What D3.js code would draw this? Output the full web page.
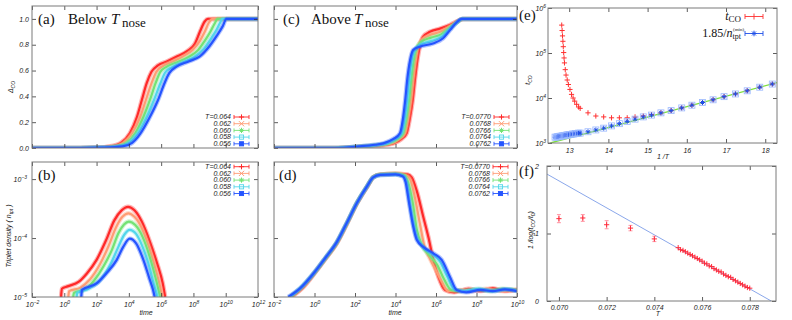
<!DOCTYPE html>
<html>
<head>
<meta charset="utf-8">
<script src="https://cdn.jsdelivr.net/npm/d3@7"></script>
<style>
body { margin: 0; background: #fff; }
svg { display: block; }
.tick text, .lbl { font-family: "Liberation Sans", Arial, sans-serif; font-style: italic; font-size: 7px; fill: #222; }
.ptitle { font-family: "Liberation Serif", "Times New Roman", serif; font-size: 15px; fill: #111; }
.leg { font-family: "Liberation Serif", "Times New Roman", serif; font-size: 12px; fill: #111; }
</style>
</head>
<body>
<div id="chart"></div>
<script>
var svgWidth = 792;
var svgHeight = 320;

// ---------- data ----------
var tempsBelow = ["T=0.064", "0.062", "0.060", "0.058", "0.056"];
var tempsAbove = ["T=0.0770", "0.0768", "0.0766", "0.0764", "0.0762"];
var seriesColors = ["#ff2828", "#ff9c74", "#74e274", "#52d6ea", "#2454ff"];
var seriesMarks = ["plus", "cross", "star", "box", "fbox"];

// (a) Delta_CO vs time, [log10(time), Delta]
var deltaBelow = [
  [[-2,0],[1,0],[2.0,0.003],[2.8,0.012],[3.5,0.04],[4.07,0.116],[4.5,0.24],[4.8,0.37],[5.1,0.5],[5.4,0.59],[5.8,0.64],[6.35,0.67],[7.0,0.71],[7.6,0.75],[8.1,0.81],[8.4,0.9],[8.7,0.98],[8.9,1.0],[12,1.0]],
  [[-2,0],[1,0],[2.1,0.003],[3.0,0.012],[3.65,0.04],[4.2,0.115],[4.7,0.24],[5.05,0.37],[5.4,0.5],[5.7,0.59],[6.1,0.635],[6.7,0.67],[7.35,0.71],[7.95,0.76],[8.4,0.83],[8.7,0.9],[8.95,0.97],[9.2,1.0],[12,1.0]],
  [[-2,0],[1,0],[2.2,0.003],[3.2,0.012],[3.85,0.04],[4.4,0.115],[4.9,0.24],[5.3,0.37],[5.65,0.5],[5.95,0.59],[6.35,0.63],[7.0,0.665],[7.7,0.705],[8.3,0.76],[8.7,0.83],[9.05,0.9],[9.3,0.96],[9.5,1.0],[12,1.0]],
  [[-2,0],[1,0],[2.3,0.003],[3.4,0.012],[4.0,0.04],[4.55,0.115],[5.1,0.24],[5.55,0.37],[5.95,0.5],[6.25,0.585],[6.65,0.625],[7.35,0.665],[8.05,0.705],[8.65,0.77],[9.1,0.85],[9.45,0.92],[9.65,0.97],[9.8,1.0],[12,1.0]],
  [[-2,0],[1,0],[2.4,0.003],[3.6,0.012],[4.2,0.04],[4.7,0.11],[5.3,0.24],[5.8,0.37],[6.2,0.5],[6.5,0.58],[6.95,0.63],[7.7,0.67],[8.4,0.71],[9.0,0.79],[9.45,0.87],[9.8,0.94],[10.05,1.0],[12,1.0]]
];

// (b) triplet density, [log10(time), log10(n_tpt)]
var tripletBelow = [
  [[-0.2,-5.0],[-0.15,-4.86],[0.2,-4.82],[0.9,-4.74],[1.4,-4.6],[2.0,-4.37],[2.6,-4.03],[3.1,-3.7],[3.55,-3.53],[3.95,-3.47],[4.35,-3.53],[4.8,-3.72],[5.3,-4.06],[5.75,-4.43],[6.1,-4.77],[6.25,-5.0]],
  [[0.25,-5.0],[0.3,-4.9],[1.0,-4.84],[1.6,-4.7],[2.2,-4.45],[2.75,-4.13],[3.2,-3.82],[3.6,-3.64],[3.97,-3.58],[4.35,-3.64],[4.8,-3.83],[5.25,-4.15],[5.65,-4.52],[5.95,-4.84],[6.07,-5.0]],
  [[0.55,-5.0],[0.6,-4.93],[1.3,-4.87],[1.85,-4.72],[2.45,-4.47],[2.95,-4.2],[3.35,-3.92],[3.7,-3.77],[4.0,-3.72],[4.4,-3.78],[4.85,-3.98],[5.25,-4.28],[5.6,-4.62],[5.85,-4.9],[5.93,-5.0]],
  [[0.77,-5.0],[0.8,-4.93],[1.5,-4.86],[2.2,-4.72],[2.85,-4.45],[3.35,-4.15],[3.7,-3.95],[4.05,-3.86],[4.45,-3.93],[4.85,-4.15],[5.25,-4.47],[5.55,-4.78],[5.7,-4.92],[5.77,-5.0]],
  [[1.05,-5.0],[1.1,-4.88],[2.0,-4.77],[2.6,-4.6],[3.25,-4.37],[3.65,-4.15],[4.05,-4.01],[4.45,-4.09],[4.9,-4.37],[5.3,-4.71],[5.5,-4.88],[5.6,-5.0]]
];

// (c) Delta_CO above T_nose
var deltaAbove = [
  [[-2,0],[1,0],[2.25,0.01],[3.3,0.02],[3.9,0.036],[4.3,0.07],[4.55,0.114],[4.72,0.24],[4.85,0.37],[4.96,0.53],[5.08,0.68],[5.18,0.77],[5.35,0.86],[5.7,0.9],[6.2,0.925],[6.7,0.955],[7.1,0.985],[7.35,1.0],[10,1.0]],
  [[-2,0],[1,0],[2.25,0.011],[3.2,0.022],[3.8,0.036],[4.2,0.07],[4.47,0.114],[4.64,0.24],[4.77,0.37],[4.88,0.53],[5.0,0.68],[5.1,0.77],[5.3,0.84],[5.7,0.875],[6.2,0.9],[6.7,0.945],[7.05,0.98],[7.32,1.0],[10,1.0]],
  [[-2,0],[1,0],[2.25,0.011],[3.15,0.023],[3.65,0.036],[4.1,0.07],[4.38,0.114],[4.55,0.24],[4.67,0.37],[4.78,0.53],[4.9,0.68],[5.02,0.765],[5.25,0.82],[5.75,0.855],[6.25,0.88],[6.7,0.935],[7.05,0.975],[7.3,1.0],[10,1.0]],
  [[-2,0],[1,0],[2.2,0.012],[3.1,0.024],[3.55,0.036],[4.0,0.07],[4.3,0.114],[4.47,0.24],[4.58,0.37],[4.68,0.53],[4.8,0.68],[4.95,0.76],[5.22,0.8],[5.8,0.83],[6.3,0.865],[6.7,0.925],[7.02,0.972],[7.28,1.0],[10,1.0]],
  [[-2,0],[1,0],[2.2,0.012],[3.0,0.025],[3.4,0.036],[3.9,0.07],[4.22,0.114],[4.38,0.24],[4.48,0.37],[4.58,0.53],[4.72,0.68],[4.88,0.76],[5.2,0.785],[5.85,0.81],[6.35,0.85],[6.7,0.915],[7.0,0.97],[7.27,1.0],[10,1.0]]
];

// (d) triplet density above T_nose
var tripletAbove = [
  [[-1.15,-5.0],[-0.6,-4.85],[0.0,-4.6],[0.55,-4.35],[1.1,-4.09],[1.6,-3.76],[2.1,-3.41],[2.6,-3.13],[2.9,-2.97],[3.25,-2.92],[4.0,-2.91],[4.6,-2.92],[4.8,-2.97],[5.05,-3.2],[5.37,-3.64],[5.62,-3.98],[5.87,-4.37],[6.12,-4.66],[6.44,-4.88],[6.9,-4.92],[7.6,-4.86],[8.2,-4.9],[8.8,-4.85],[9.4,-4.9],[10,-4.88]],
  [[-1.2,-5.0],[-0.6,-4.84],[0.0,-4.59],[0.55,-4.34],[1.1,-4.08],[1.6,-3.75],[2.1,-3.41],[2.6,-3.13],[2.9,-2.97],[3.25,-2.92],[4.0,-2.91],[4.5,-2.93],[4.72,-3.0],[4.95,-3.3],[5.2,-3.75],[5.4,-4.1],[5.7,-4.35],[6.0,-4.55],[6.3,-4.75],[6.6,-4.9],[7.2,-4.88],[7.8,-4.9],[8.5,-4.86],[9.2,-4.9],[10,-4.87]],
  [[-1.2,-5.0],[-0.65,-4.84],[0.0,-4.59],[0.55,-4.34],[1.1,-4.08],[1.6,-3.75],[2.1,-3.4],[2.6,-3.12],[2.9,-2.97],[3.25,-2.92],[4.0,-2.91],[4.45,-2.94],[4.62,-3.05],[4.85,-3.4],[5.05,-3.85],[5.3,-4.12],[5.7,-4.3],[6.05,-4.45],[6.4,-4.7],[6.75,-4.88],[7.3,-4.9],[8.0,-4.87],[8.7,-4.9],[9.3,-4.86],[10,-4.89]],
  [[-1.25,-5.0],[-0.7,-4.85],[0.0,-4.58],[0.55,-4.33],[1.1,-4.07],[1.6,-3.74],[2.1,-3.4],[2.6,-3.12],[2.9,-2.97],[3.25,-2.93],[4.0,-2.92],[4.4,-2.95],[4.56,-3.08],[4.75,-3.5],[4.98,-3.92],[5.3,-4.13],[5.8,-4.27],[6.2,-4.4],[6.55,-4.65],[6.9,-4.87],[7.4,-4.9],[8.1,-4.86],[8.8,-4.9],[9.5,-4.87],[10,-4.9]],
  [[-1.3,-5.0],[-0.7,-4.85],[0.0,-4.58],[0.55,-4.33],[1.1,-4.07],[1.6,-3.74],[2.1,-3.4],[2.6,-3.12],[2.9,-2.97],[3.25,-2.93],[4.0,-2.92],[4.35,-2.95],[4.5,-3.05],[4.65,-3.36],[4.88,-3.81],[5.05,-4.03],[5.37,-4.15],[5.87,-4.26],[6.28,-4.37],[6.69,-4.66],[7.02,-4.88],[7.5,-4.92],[8.2,-4.88],[8.8,-4.9],[9.4,-4.87],[10,-4.9]]
];

// (e) crossover time vs 1/T
var tcoInvT = [12.81,12.82,12.83,12.84,12.85,12.86,12.87,12.88,12.90,12.92,12.95,12.98,13.02,13.06,13.10,13.14,13.19,13.24,13.28,
  13.48,13.68,13.88,14.08,14.28,14.48,14.68,14.89,15.10,15.34,15.60,15.87,16.13,16.40,16.67,16.95,17.24,17.54,17.86,18.18];
var tcoLog = [5.62,5.50,5.38,5.26,5.14,5.01,4.89,4.78,4.63,4.51,4.40,4.30,4.19,4.08,4.00,3.93,3.86,3.80,3.77,
  3.67,3.60,3.58,3.56,3.56,3.56,3.58,3.60,3.63,3.67,3.72,3.78,3.84,3.90,3.96,4.03,4.09,4.16,4.24,4.31];
var ntptInvT = [12.64,12.67,12.70,12.73,12.76,12.79,12.82,12.85,12.88,12.91,12.94,12.97,13.00,13.04,13.08,13.12,13.16,13.20,13.24,13.28,
  13.48,13.68,13.88,14.08,14.28,14.48,14.68,14.89,15.10,15.34,15.60,15.87,16.13,16.40,16.67,16.95,17.24,17.54,17.86,18.18];
var ntptLog = [3.13,3.13,3.14,3.14,3.15,3.15,3.16,3.16,3.17,3.17,3.18,3.18,3.19,3.19,3.20,3.20,3.21,3.21,3.22,3.22,
  3.25,3.29,3.33,3.38,3.43,3.48,3.53,3.58,3.62,3.67,3.72,3.78,3.84,3.90,3.96,4.03,4.09,4.16,4.24,4.31];
var fitE = [[12.52, 3.0], [18.3, 4.34]];

// (f) 1/log(t_CO/t_0) vs T
var fT = [0.0700,0.0710,0.0720,0.0730,0.0740,
  0.0750,0.0751,0.0752,0.0753,0.0754,0.0755,0.0756,0.0757,0.0758,0.0759,0.0760,0.0761,0.0762,0.0763,0.0764,0.0765,
  0.0766,0.0767,0.0768,0.0769,0.0770,0.0771,0.0772,0.0773,0.0774,0.0775,0.0776,0.0777,0.0778,0.0779,0.0780];
var fVal = [1.22,1.23,1.13,1.08,0.92,
  0.79,0.76,0.75,0.73,0.71,0.69,0.67,0.65,0.63,0.61,0.59,0.56,0.55,0.52,0.51,0.48,
  0.46,0.44,0.43,0.40,0.38,0.36,0.35,0.32,0.30,0.28,0.26,0.24,0.22,0.20,0.19];
var fErr = [0.06,0.05,0.06,0.04,0.04];
var fitF = [[0.0695, 1.88], [0.0789, 0]];

// ticks
var timeTicksB = [1e-2,1e0,1e2,1e4,1e6,1e8,1e10,1e12];
var timeTicksD = [1e-2,1e0,1e2,1e4,1e6,1e8,1e10];
var deltaTicks = [0,0.2,0.4,0.6,0.8,1.0];
var densTicks = [1e-5,1e-4,1e-3];
var invTTicks = [13,14,15,16,17,18];
var tcoTicks = [1e3,1e4,1e5,1e6];
var fXTicks = [0.070,0.072,0.074,0.076,0.078];
var fYTicks = [0,1,2];

// ---------- layout ----------
var boxA = {x0: 32, x1: 258, y0: 6, y1: 148};
var boxB = {x0: 32, x1: 258, y0: 162, y1: 297};
var boxC = {x0: 274, x1: 517, y0: 6, y1: 148};
var boxD = {x0: 274, x1: 517, y0: 162, y1: 297};
var boxE = {x0: 548, x1: 777, y0: 8, y1: 143};
var boxF = {x0: 547, x1: 776, y0: 166, y1: 301};

var svg = d3.select("#chart").append("svg")
  .attr("width", svgWidth)
  .attr("height", svgHeight);
var defs = svg.append("defs");

function clip(id, b) {
  defs.append("clipPath").attr("id", id).append("rect")
    .attr("x", b.x0).attr("y", b.y0)
    .attr("width", b.x1 - b.x0).attr("height", b.y1 - b.y0);
  return svg.append("g").attr("clip-path", "url(#" + id + ")");
}

function powLabel(d) {
  var e = Math.round(Math.log10(d));
  var t = d3.select(this).text(null);
  t.append("tspan").text("10");
  t.append("tspan").attr("dy", -3).attr("font-size", "5px").text(e < 0 ? "\u2212" + (-e) : e);
}

function axes(b, x, y, o) {
  var g = svg.append("g");
  var bot = g.append("g").attr("transform", "translate(0," + b.y1 + ")")
    .call(d3.axisBottom(x).tickValues(o.xt).tickSizeInner(-4).tickSizeOuter(0)
      .tickPadding(o.xpad || 5).tickFormat(o.xf && o.xf !== "pow" ? o.xf : ""));
  if (o.xf === "pow") bot.selectAll(".tick text").each(powLabel);
  if (!o.xf) bot.selectAll(".tick text").remove();
  g.append("g").attr("transform", "translate(0," + b.y0 + ")")
    .call(d3.axisTop(x).tickValues(o.xt).tickSizeInner(-4).tickSizeOuter(0).tickFormat(""));
  var lef = g.append("g").attr("transform", "translate(" + b.x0 + ",0)")
    .call(d3.axisLeft(y).tickValues(o.yt).tickSizeInner(-4).tickSizeOuter(0)
      .tickPadding(o.ypad || 3).tickFormat(o.yf && o.yf !== "pow" ? o.yf : ""));
  if (o.yf === "pow") lef.selectAll(".tick text").each(powLabel);
  if (!o.yf) lef.selectAll(".tick text").remove();
  g.append("g").attr("transform", "translate(" + b.x1 + ",0)")
    .call(d3.axisRight(y).tickValues(o.yt).tickSizeInner(-4).tickSizeOuter(0).tickFormat(""));
  g.selectAll(".domain").remove();
  g.selectAll(".tick line").attr("stroke", "#333").attr("stroke-width", 0.8);
  svg.append("rect").attr("x", b.x0).attr("y", b.y0)
    .attr("width", b.x1 - b.x0).attr("height", b.y1 - b.y0)
    .attr("fill", "none").attr("stroke", "#7a7a7a").attr("stroke-width", 1);
}

function marker(g, type, cx, cy, s, color) {
  var p;
  if (type === "plus") p = "M" + (cx - s) + "," + cy + "H" + (cx + s) + "M" + cx + "," + (cy - s) + "V" + (cy + s);
  if (type === "cross") p = "M" + (cx - s) + "," + (cy - s) + "L" + (cx + s) + "," + (cy + s) + "M" + (cx - s) + "," + (cy + s) + "L" + (cx + s) + "," + (cy - s);
  if (type === "star") p = "M" + (cx - s) + "," + cy + "H" + (cx + s) + "M" + cx + "," + (cy - s) + "V" + (cy + s) +
    "M" + (cx - s * 0.7) + "," + (cy - s * 0.7) + "L" + (cx + s * 0.7) + "," + (cy + s * 0.7) + "M" + (cx - s * 0.7) + "," + (cy + s * 0.7) + "L" + (cx + s * 0.7) + "," + (cy - s * 0.7);
  if (type === "box" || type === "fbox") {
    g.append("rect").attr("x", cx - s * 0.8).attr("y", cy - s * 0.8).attr("width", s * 1.6).attr("height", s * 1.6)
      .attr("fill", type === "fbox" ? color : "none").attr("stroke", color).attr("stroke-width", 0.9);
    return;
  }
  g.append("path").attr("d", p).attr("stroke", color).attr("stroke-width", 1).attr("fill", "none");
}

function legend(labels, xr, y0, dy) {
  var g = svg.append("g");
  labels.forEach(function(t, i) {
    var y = y0 + i * dy;
    g.append("text").attr("class", "lbl").attr("x", xr).attr("y", y + 2.3)
      .attr("text-anchor", "end").text(t);
    var c = seriesColors[i];
    g.append("path").attr("d", "M" + (xr + 3) + "," + y + "H" + (xr + 18) + "M" + (xr + 3) + "," + (y - 2) + "V" + (y + 2) + "M" + (xr + 18) + "," + (y - 2) + "V" + (y + 2))
      .attr("stroke", c).attr("stroke-width", 0.9).attr("fill", "none");
    marker(g, seriesMarks[i], xr + 10.5, y, 2.6, c);
  });
}

function drawSeries(g, data, x, y, logY) {
  var line = d3.line()
    .x(function(d) { return x(Math.pow(10, d[0])); })
    .y(function(d) { return logY ? y(Math.pow(10, d[1])) : y(d[1]); })
    .curve(d3.curveMonotoneX);
  data.forEach(function(s, i) {
    g.append("path").attr("d", line(s)).attr("fill", "none")
      .attr("stroke", seriesColors[i]).attr("stroke-width", 4.5).attr("stroke-opacity", 0.35);
    g.append("path").attr("d", line(s)).attr("fill", "none")
      .attr("stroke", seriesColors[i]).attr("stroke-width", 2.2).attr("stroke-linejoin", "round");
  });
}

// ---------- (a) ----------
var xA = d3.scaleLog().domain([1e-2, 1e12]).range([boxA.x0, boxA.x1]);
var yA = d3.scaleLinear().domain([0, 1.1]).range([boxA.y1, boxA.y0]);
drawSeries(clip("cA", boxA), deltaBelow, xA, yA, false);
axes(boxA, xA, yA, {xt: timeTicksB, yt: deltaTicks, yf: d3.format(".1f")});
legend(tempsBelow, 231, 117, 6.7);

// ---------- (b) ----------
var yB = d3.scaleLog().domain([1e-5, Math.pow(10, -2.71)]).range([boxB.y1, boxB.y0]);
drawSeries(clip("cB", boxB), tripletBelow, xA, yB, true);
axes(boxB, xA, yB, {xt: timeTicksB, yt: densTicks, xf: "pow", yf: "pow", ypad: 5});
legend(tempsBelow, 231, 166.7, 6.7);

// ---------- (c) ----------
var xC = d3.scaleLog().domain([1e-2, 1e10]).range([boxC.x0, boxC.x1]);
drawSeries(clip("cC", boxC), deltaAbove, xC, yA, false);
axes(boxC, xC, yA, {xt: timeTicksD, yt: deltaTicks});
legend(tempsAbove, 491, 117, 6.7);

// ---------- (d) ----------
drawSeries(clip("cD", boxD), tripletAbove, xC, yB, true);
axes(boxD, xC, yB, {xt: timeTicksD, yt: densTicks, xf: "pow"});
legend(tempsAbove, 490, 166.7, 6.7);

// ---------- (e) ----------
var xE = d3.scaleLinear().domain([12.46, 18.3]).range([boxE.x0, boxE.x1]);
var yE = d3.scaleLog().domain([1e3, 1e6]).range([boxE.y1, boxE.y0]);
var gE = clip("cE", boxE);
gE.append("line")
  .attr("x1", xE(fitE[0][0])).attr("y1", yE(Math.pow(10, fitE[0][1])))
  .attr("x2", xE(fitE[1][0])).attr("y2", yE(Math.pow(10, fitE[1][1])))
  .attr("stroke", "#7ee03c").attr("stroke-width", 1.3);
tcoInvT.forEach(function(v, i) {
  marker(gE, "plus", xE(v), yE(Math.pow(10, tcoLog[i])), 2.6, "#ff3030");
});
ntptInvT.forEach(function(v, i) {
  var cx = xE(v), cy = yE(Math.pow(10, ntptLog[i]));
  gE.append("rect").attr("x", cx - 3).attr("y", cy - 3).attr("width", 6).attr("height", 6)
    .attr("fill", "none").attr("stroke", "#9ab8ff").attr("stroke-width", 0.8);
  marker(gE, "star", cx, cy, 2.4, "#2050e8");
});
axes(boxE, xE, yE, {xt: invTTicks, yt: tcoTicks, xf: d3.format("d"), yf: "pow", ypad: 2});

// legend (e)
var lgE = svg.append("g");
var tco = lgE.append("text").attr("class", "leg").attr("x", 741).attr("y", 20).attr("text-anchor", "end");
tco.append("tspan").attr("font-style", "italic").text("t");
tco.append("tspan").attr("font-size", "9px").attr("dy", 2).text("CO");
lgE.append("path").attr("d", "M745,16.5H763M745,14V19M763,14V19M754,13.5V19.5").attr("stroke", "#ff3030").attr("stroke-width", 0.9);
var nt = lgE.append("text").attr("class", "leg").attr("x", 741).attr("y", 37).attr("text-anchor", "end");
nt.append("tspan").text("1.85/");
nt.append("tspan").attr("font-style", "italic").text("n");
var sub = nt.append("tspan").attr("font-size", "8px").attr("dy", 2).text("tpt");
var subW = sub.node().getComputedTextLength();
lgE.append("text").attr("class", "leg").attr("x", 741 - subW + 0.5).attr("y", 30.5)
  .style("font-size", "5px").text("(min)");
lgE.append("path").attr("d", "M745,33.5H763M745,31V36M763,31V36").attr("stroke", "#2050e8").attr("stroke-width", 0.9);
marker(lgE, "star", 754, 33.5, 2.8, "#2050e8");

// ---------- (f) ----------
var xF = d3.scaleLinear().domain([0.0695, 0.0791]).range([boxF.x0, boxF.x1]);
var yF = d3.scaleLinear().domain([0, 2]).range([boxF.y1, boxF.y0]);
var gF = clip("cF", boxF);
gF.append("line")
  .attr("x1", xF(fitF[0][0])).attr("y1", yF(fitF[0][1]))
  .attr("x2", xF(fitF[1][0])).attr("y2", yF(fitF[1][1]))
  .attr("stroke", "#7d9de8").attr("stroke-width", 0.9);
fT.forEach(function(t, i) {
  var cx = xF(t), cy = yF(fVal[i]);
  if (i < fErr.length) {
    var e0 = yF(fVal[i] - fErr[i]), e1 = yF(fVal[i] + fErr[i]);
    gF.append("path").attr("d", "M" + cx + "," + e0 + "V" + e1 + "M" + (cx - 2) + "," + e0 + "H" + (cx + 2) + "M" + (cx - 2) + "," + e1 + "H" + (cx + 2))
      .attr("stroke", "#ff8a9a").attr("stroke-width", 0.9).attr("fill", "none");
  }
  marker(gF, "plus", cx, cy, 2.6, "#ff2a3a");
});
axes(boxF, xF, yF, {xt: fXTicks, yt: fYTicks, xf: d3.format(".3f"), yf: d3.format("d"), xpad: 4, ypad: 8});

// ---------- titles and axis names ----------
function title(x, y, parts) {
  parts.forEach(function(p) {
    var t = svg.append("text").attr("class", "ptitle").attr("x", x + p[0]).attr("y", y + (p[3] || 0)).text(p[1]);
    if (p[2]) t.style("font-style", "italic");
    if (p[4]) t.style("font-size", p[4]);
  });
}
title(38, 24, [[0, "(a)"], [30, "Below"], [73, "T", true], [84, "nose", false, 3, "13px"]]);
title(283, 24, [[0, "(c)"], [28, "Above"], [71, "T", true], [82, "nose", false, 3, "13px"]]);
title(38, 180, [[0, "(b)"]]);
title(279, 180, [[0, "(d)"]]);
title(519, 20, [[0, "(e)"]]);
title(519, 176, [[0, "(f)"]]);

function axisName(x, y, rot, parts) {
  var t = svg.append("text").attr("class", "lbl").attr("text-anchor", "middle")
    .attr("transform", "translate(" + x + "," + y + ")" + (rot ? " rotate(-90)" : ""));
  parts.forEach(function(p) {
    var s = t.append("tspan").text(p[0]);
    if (p[1]) s.attr("dy", p[1]);
    if (p[2]) s.attr("font-size", p[2]);
  });
}
axisName(13, 87, true, [["\u0394"], ["CO", 1.5, "5px"]]);
axisName(11, 236, true, [["Triplet density ( "], ["n"], ["tpt", 1.5, "5px"], [" )", -1.5]]);
axisName(146, 315, false, [["time"]]);
axisName(395, 315, false, [["time"]]);
axisName(530, 80, true, [["t"], ["CO", 1.5, "5px"]]);
axisName(663, 159, false, [["1 /T"]]);
axisName(533, 230, true, [["1 /log(t"], ["CO", 1.5, "5px"], ["/t", -1.5], ["0", 1.5, "5px"], [")", -1.5]]);
axisName(658, 316, false, [["T"]]);
</script>
</body>
</html>
